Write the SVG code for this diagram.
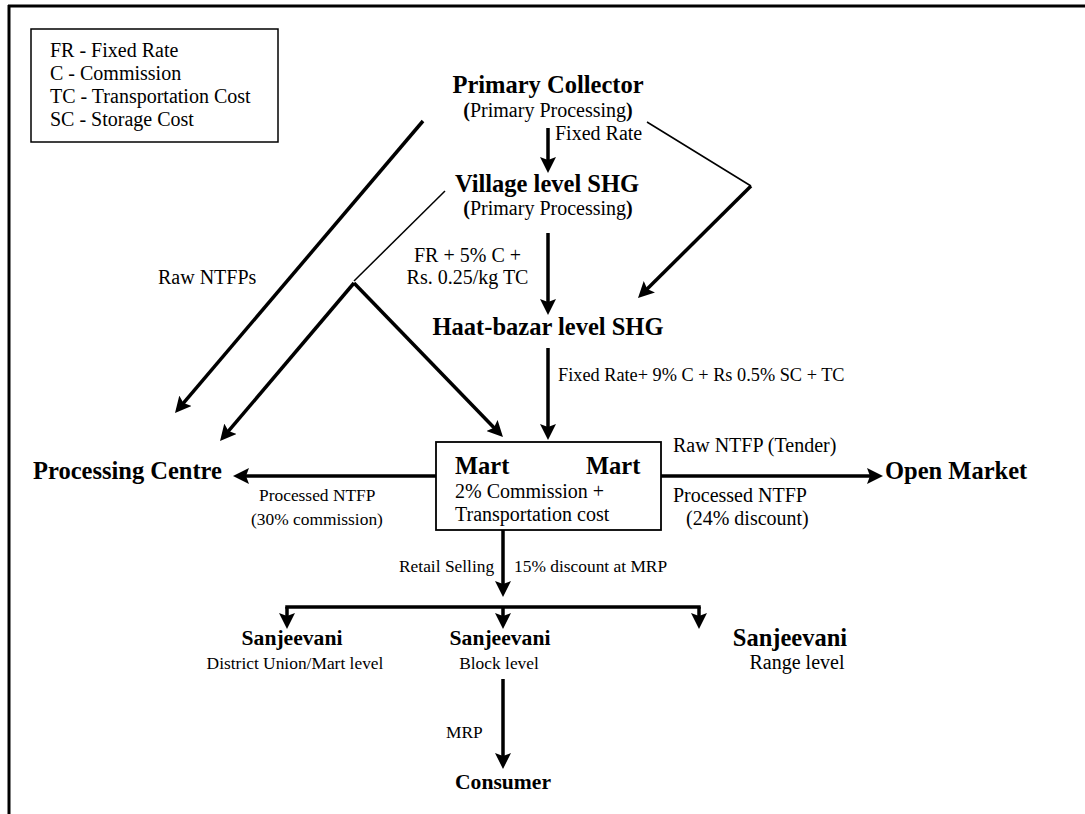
<svg xmlns="http://www.w3.org/2000/svg" width="1085" height="814" viewBox="0 0 1085 814">
<style>
text{font-family:"Liberation Serif","Times New Roman",serif;fill:#000}
.r{font-size:20px}
.s{font-size:17.4px}
.f{font-size:18.3px}
.b{font-size:24.5px;font-weight:bold}
.bs{font-size:21.6px;font-weight:bold}
.m{text-anchor:middle}
.thick{stroke:#000;stroke-width:3.5;fill:none}
.thin{stroke:#000;stroke-width:1.5;fill:none}
.box{stroke:#000;stroke-width:1.8;fill:#fff}
</style>
<defs>
<marker id="ah" markerUnits="userSpaceOnUse" markerWidth="16" markerHeight="16" refX="6" refY="8" orient="auto" viewBox="0 0 16 16">
<path d="M0,0 L16,8 L0,16 L3,8 z" fill="#000"/>
</marker>
</defs>
<rect width="1085" height="814" fill="#fff"/>
<g id="frame">
<line x1="8" y1="6" x2="1085" y2="6" stroke="#000" stroke-width="3"/>
<line x1="9" y1="5" x2="9" y2="814" stroke="#000" stroke-width="3"/>
</g>
<g id="legend">
<rect x="31" y="29" width="247" height="113" fill="none" stroke="#000" stroke-width="1.5"/>
<text class="r" x="50" y="57">FR - Fixed Rate</text>
<text class="r" x="50" y="80">C - Commission</text>
<text class="r" x="50" y="103">TC - Transportation Cost</text>
<text class="r" x="50" y="126">SC - Storage Cost</text>
</g>
<g id="connectors">
<line class="thick" x1="548" y1="128" x2="548" y2="163" marker-end="url(#ah)"/>
<line class="thick" x1="548" y1="233" x2="548" y2="305" marker-end="url(#ah)"/>
<line class="thick" x1="548" y1="348" x2="548" y2="430" marker-end="url(#ah)"/>
<polyline class="thin" points="647,122 751,186"/>
<line class="thick" x1="751" y1="186" x2="645.1" y2="291" marker-end="url(#ah)"/>
<line class="thick" x1="423" y1="121" x2="181.5" y2="405.4" marker-end="url(#ah)"/>
<line class="thin" x1="445" y1="191" x2="354" y2="281"/>
<line class="thick" x1="354" y1="283" x2="226.5" y2="433.4" marker-end="url(#ah)"/>
<line class="thick" x1="354" y1="283" x2="496" y2="429.8" marker-end="url(#ah)"/>
<line class="thick" x1="436" y1="476" x2="243" y2="476" marker-end="url(#ah)"/>
<line class="thick" x1="661" y1="476" x2="873" y2="476" marker-end="url(#ah)"/>
<line class="thick" x1="503" y1="530" x2="503" y2="587" marker-end="url(#ah)"/>
<line class="thick" x1="287" y1="607" x2="699" y2="607" stroke-linecap="square"/>
<line class="thick" x1="287" y1="607" x2="287" y2="619" marker-end="url(#ah)"/>
<line class="thick" x1="503" y1="607" x2="503" y2="619" marker-end="url(#ah)"/>
<line class="thick" x1="699" y1="607" x2="699" y2="619" marker-end="url(#ah)"/>
<line class="thick" x1="503" y1="679" x2="503" y2="759" marker-end="url(#ah)"/>
<text class="r" x="555" y="140">Fixed Rate</text>
<text class="r m" x="467.5" y="262">FR + 5% C +</text>
<text class="r m" x="467.5" y="284">Rs. 0.25/kg TC</text>
<text class="f" x="558" y="381">Fixed Rate+ 9% C + Rs 0.5% SC + TC</text>
<text class="r" x="158" y="284">Raw NTFPs</text>
<text class="s" x="259" y="501">Processed NTFP</text>
<text class="s" x="251" y="525">(30% commission)</text>
<text class="r" x="673" y="452">Raw NTFP (Tender)</text>
<text class="r" x="673" y="502">Processed NTFP</text>
<text class="r" x="686" y="525">(24% discount)</text>
<text class="s" x="399" y="572">Retail Selling</text>
<text class="s" x="514" y="572">15% discount at MRP</text>
<text class="s" x="446" y="738">MRP</text>
</g>
<g id="primary-collector">
<text class="b m" x="548" y="93">Primary Collector</text>
<text class="r m" x="548" y="117"><tspan font-weight="bold">(</tspan>Primary Processing<tspan font-weight="bold">)</tspan></text>
</g>
<g id="village-shg">
<text class="b m" x="547" y="192">Village level SHG</text>
<text class="r m" x="548" y="215"><tspan font-weight="bold">(</tspan>Primary Processing<tspan font-weight="bold">)</tspan></text>
</g>
<g id="haat-shg">
<text class="b m" x="548" y="335">Haat-bazar level SHG</text>
</g>
<g id="mart">
<rect class="box" x="436" y="442" width="225" height="88"/>
<text class="b" x="455" y="474">Mart</text>
<text class="b" x="586" y="474">Mart</text>
<text class="r" x="455" y="498">2% Commission +</text>
<text class="r" x="455" y="521">Transportation cost</text>
</g>
<g id="processing-centre">
<text class="b" x="33" y="479">Processing Centre</text>
</g>
<g id="open-market">
<text class="b" x="885" y="479">Open Market</text>
</g>
<g id="sanjeevani-district">
<text class="bs m" x="292" y="645">Sanjeevani</text>
<text class="s m" x="295" y="669">District Union/Mart level</text>
</g>
<g id="sanjeevani-block">
<text class="bs m" x="500" y="645">Sanjeevani</text>
<text class="s m" x="499" y="669">Block level</text>
</g>
<g id="sanjeevani-range">
<text class="b m" x="790" y="646">Sanjeevani</text>
<text class="r m" x="797" y="669">Range level</text>
</g>
<g id="consumer">
<text class="bs m" x="503" y="789">Consumer</text>
</g>
</svg>
